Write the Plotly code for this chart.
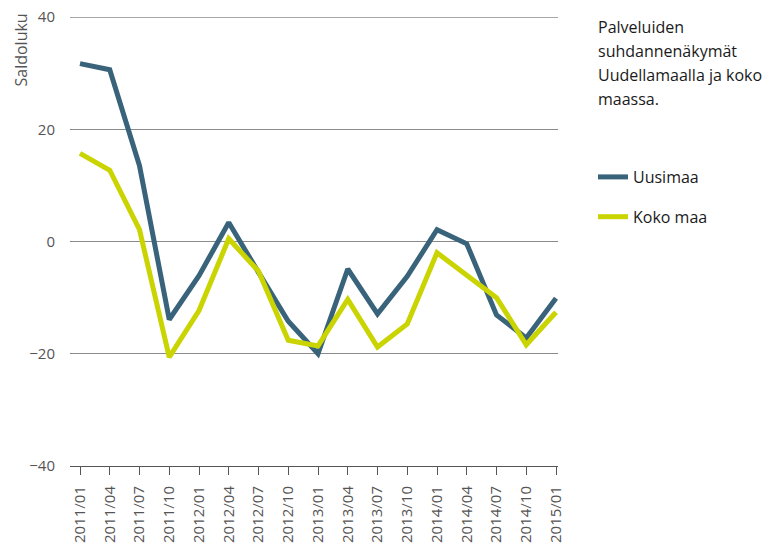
import plotly.graph_objects as go

# Quarterly periods
quarters = ["2011/01", "2011/04", "2011/07", "2011/10",
            "2012/01", "2012/04", "2012/07", "2012/10",
            "2013/01", "2013/04", "2013/07", "2013/10",
            "2014/01", "2014/04", "2014/07", "2014/10",
            "2015/01"]

# Balance figures (saldoluku)
uusimaa = [31.7, 30.6, 13.5, -13.9, -6.1, 3.4, -5.5, -14.2,
           -20.0, -4.9, -12.9, -6.2, 2.1, -0.4, -13.1, -17.2, -10.1]
koko_maa = [15.7, 12.7, 2.1, -20.6, -12.3, 0.5, -5.3, -17.6,
            -18.6, -10.3, -18.8, -14.7, -2.0, -6.1, -10.0, -18.4, -12.6]

title_lines = ["Palveluiden", "suhdannenäkymät",
               "Uudellamaalla ja koko", "maassa."]

W, H = 773, 546
L, R, T, B = 70, 215, 17, 80
pw, ph = W - L - R, H - T - B

def px_x(x):
    return (x - L) / pw

def px_y(y):
    return (H - B - y) / ph

FONT = "Open Sans"
BLUE = "#39637a"
LIME = "#c9d400"
GRID = "#8a8a8a"
TICK = "#555555"

fig = go.Figure()
fig.add_trace(go.Scatter(x=list(range(len(quarters))), y=uusimaa, mode="lines",
                         name="Uusimaa", legendgroup="a",
                         line=dict(color=BLUE, width=5)))
fig.add_trace(go.Scatter(x=list(range(len(quarters))), y=koko_maa, mode="lines",
                         name="Koko maa", legendgroup="b",
                         line=dict(color=LIME, width=5)))

n = len(quarters)
fig.update_xaxes(
    range=[-10 / 29.75, n - 1 + 2 / 29.75],
    tickmode="array", tickvals=list(range(n)), ticktext=quarters,
    tickangle=-90, ticks="outside", ticklen=8, tickcolor="#555555",
    ticklabelstandoff=5,
    tickfont=dict(family=FONT, size=15, color=TICK),
    showgrid=False, zeroline=False,
    showline=True, linecolor="#555555", linewidth=1,
)
fig.update_yaxes(
    range=[-40, 40], tickvals=[-40, -20, 0, 20, 40],
    tickfont=dict(family=FONT, size=15, color=TICK),
    showgrid=True, gridcolor=GRID, gridwidth=1.3,
    zeroline=False, showline=False, ticks="",
    ticklabelstandoff=14,
)

# top edge of the plot area doubles as the +40 gridline
shapes = [dict(type="line", xref="paper", yref="y", x0=0, x1=1, y0=40, y1=40,
               line=dict(color=GRID, width=1.3))]

annotations = [dict(text="Saldoluku", textangle=-90, xref="paper", yref="paper",
                    x=px_x(21), y=px_y(12), xanchor="center", yanchor="top",
                    showarrow=False, font=dict(family=FONT, size=16, color=TICK))]
for i, line in enumerate(title_lines):
    annotations.append(dict(text=line, xref="paper", yref="paper",
                            x=px_x(596), y=px_y(27 + 24 * i),
                            xanchor="left", yanchor="middle", showarrow=False,
                            font=dict(family=FONT, size=16, color="#1a1a1a")))

fig.update_layout(
    width=W, height=H,
    margin=dict(l=L, r=R, t=T, b=B, autoexpand=False),
    paper_bgcolor="white", plot_bgcolor="white",
    showlegend=True,
    legend=dict(x=px_x(593), y=px_y(160), xanchor="left", yanchor="top",
                font=dict(family=FONT, size=16, color="#1a1a1a"),
                tracegroupgap=16, itemwidth=30, bgcolor="rgba(0,0,0,0)"),
    shapes=shapes,
    annotations=annotations,
)

fig.write_html("out.html")
